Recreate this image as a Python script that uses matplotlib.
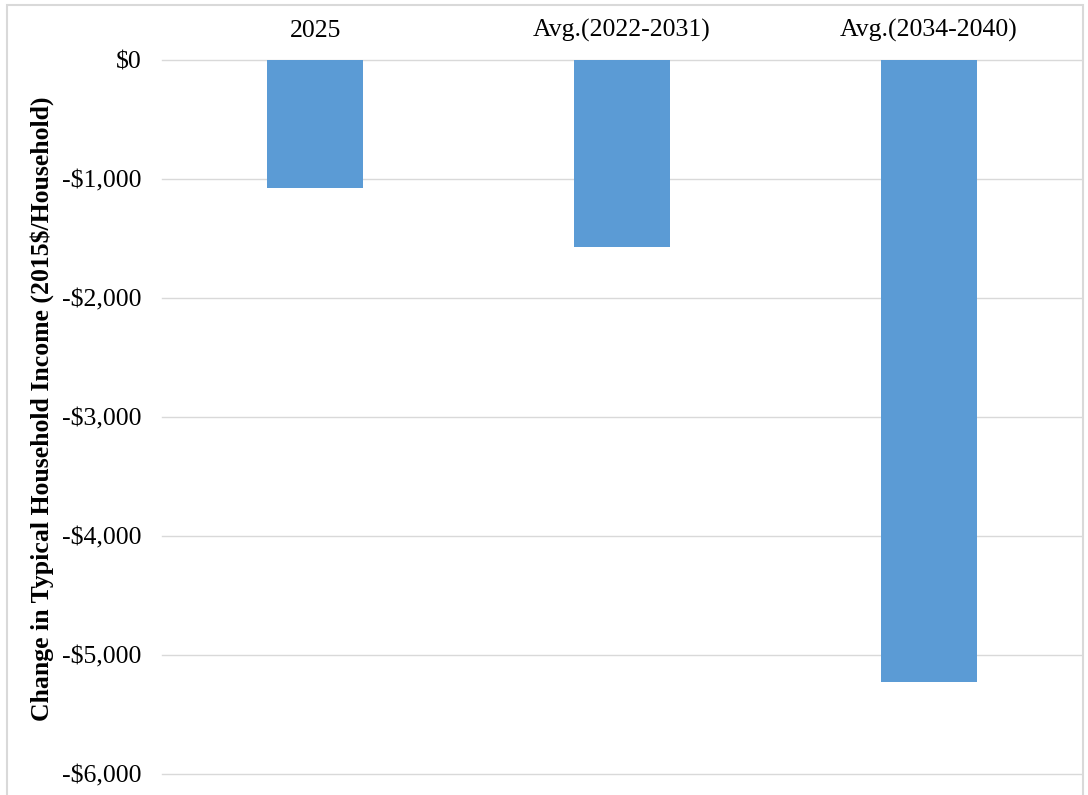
import matplotlib.pyplot as plt
import matplotlib.patches as patches
from matplotlib.ticker import FuncFormatter

categories = ['2025', 'Avg.(2022-2031)', 'Avg.(2034-2040)']
income_change = [-1073, -1571, -5227]
yticks = [0, -1000, -2000, -3000, -4000, -5000, -6000]

plt.rcParams['font.family'] = ['Liberation Serif', 'DejaVu Serif']

fig = plt.figure(figsize=(10.88, 7.95), dpi=100)
ax = fig.add_axes([0.1489, 0.0264, 0.8456, 0.8981])

x = range(len(categories))
ax.bar(x, income_change, width=0.313, color='#5B9BD5', zorder=3)

ax.set_xlim(-0.5, 2.5)
ax.set_ylim(-6000, 0)
ax.set_yticks(yticks)
ax.yaxis.set_major_formatter(FuncFormatter(
    lambda v, p: '$0' if v == 0 else '-${:,.0f}'.format(abs(v))))
ax.grid(axis='y', color='#d9d9d9', linewidth=1, zorder=0)
for gl in ax.get_ygridlines():
    gl.set_clip_on(False)
ax.xaxis.tick_top()
ax.set_xticks(list(x))
ax.set_xticklabels(categories)
ax.tick_params(axis='both', length=0, labelsize=18.5)
ax.tick_params(axis='y', pad=15)
ax.tick_params(axis='x', pad=13)
for s in ax.spines.values():
    s.set_visible(False)
ax.set_ylabel('Change in Typical Household Income (2015$/Household)',
              fontsize=18.5, fontweight='bold')
ax.yaxis.set_label_coords(-0.117, 0.512)

# light frame round the whole chart area
fig.patches.append(patches.Rectangle((7 / 1088, -0.01), 1076 / 1088, 1 - 5 / 795 + 0.01,
                                     transform=fig.transFigure, fill=False,
                                     edgecolor='#d9d9d9', linewidth=1.5))

fig.savefig('out.png', dpi=100)
